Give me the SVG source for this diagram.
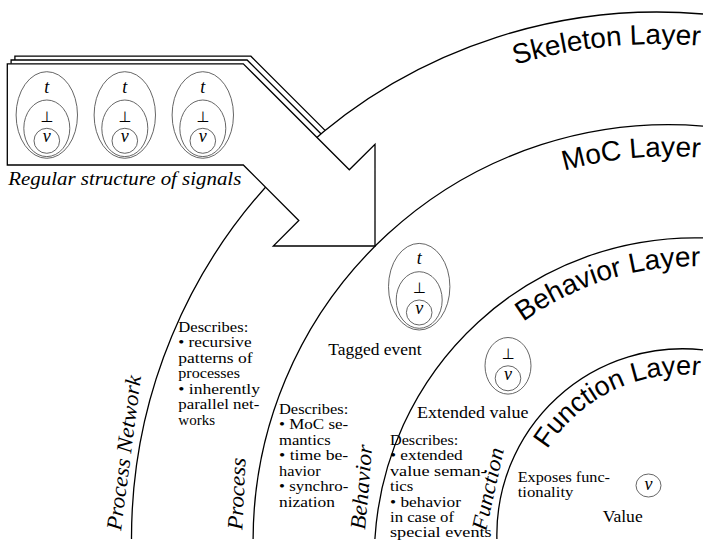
<svg xmlns="http://www.w3.org/2000/svg" width="716" height="549" viewBox="0 0 716 549">
<style>
.arc{fill:none;stroke:#000;stroke-width:1.3}
.box{fill:#fff;stroke:#000;stroke-width:1.3;stroke-linejoin:miter}
.back{fill:none;stroke:#000;stroke-width:1.3}
.ell{fill:none;stroke:#555;stroke-width:0.9}
text{fill:#000}
.m{font-family:'Liberation Serif',serif;font-style:italic;font-size:18px;text-anchor:middle}
.bot{font-family:'DejaVu Sans',sans-serif;font-size:15px;text-anchor:middle}
.d{font-family:'Liberation Serif',serif;font-size:15px}
.lab{font-family:'Liberation Serif',serif;font-size:16.5px}
.it{font-family:'Liberation Serif',serif;font-style:italic;font-size:22px}
.lay{font-family:'Liberation Sans',sans-serif;font-size:28px;text-anchor:end}
</style>
<defs>
<path id="p1" d="M 430 99.5 A 494 494 0 0 1 700 45.8"/>
<path id="p2" d="M 450 224.7 A 384 384 0 0 1 700 157.6"/>
<path id="p3" d="M 480 360.5 A 292 292 0 0 1 700 266.3"/>
<path id="p4" d="M 525.1 506.9 A 160 160 0 0 1 700 375.6"/>
</defs>
<rect width="716" height="549" fill="#fff"/>

<g id="stack-back">
<path class="back" d="M 14.9 60 V 56.2 H 250.9 L 325.1 130.4"/>
<path class="back" d="M 11.1 63.8 V 60 H 247.1 L 320.9 133.8"/>
</g>

<g id="layers">
<path class="arc" d="M 131.5 539 A 526 526 0 0 1 703 14"/>
<path class="arc" d="M 253.1 539 A 415.6 415.6 0 0 1 703 126.1"/>
<path class="arc" d="M 374.9 539 A 320.5 320.5 0 0 1 703 237.9"/>
<path class="arc" d="M 496.9 539 A 185.9 185.9 0 0 1 703 349.9"/>
</g>

<g id="arrow">
<polygon class="box" points="7.3,63.8 243.3,63.8 349.3,169.8 375,144.2 375,246 273.3,246 298.8,220.5 243.3,165 7.3,165"/>
</g>

<g id="signal-1" transform="translate(46.8,115)">
<ellipse class="ell" cx="0" cy="0" rx="30.7" ry="43.3"/>
<ellipse class="ell" cx="0" cy="13.3" rx="23" ry="28.3"/>
<ellipse class="ell" cx="0" cy="25.8" rx="12.8" ry="12.5"/>
<text class="m" x="0" y="-22.5">t</text>
<text class="bot" x="0" y="6.7">⊥</text>
<text class="m" x="0" y="27">v</text>
</g>
<g id="signal-2" transform="translate(124.8,115)">
<ellipse class="ell" cx="0" cy="0" rx="30.7" ry="43.3"/>
<ellipse class="ell" cx="0" cy="13.3" rx="23" ry="28.3"/>
<ellipse class="ell" cx="0" cy="25.8" rx="12.8" ry="12.5"/>
<text class="m" x="0" y="-22.5">t</text>
<text class="bot" x="0" y="6.7">⊥</text>
<text class="m" x="0" y="27">v</text>
</g>
<g id="signal-3" transform="translate(202.8,115)">
<ellipse class="ell" cx="0" cy="0" rx="30.7" ry="43.3"/>
<ellipse class="ell" cx="0" cy="13.3" rx="23" ry="28.3"/>
<ellipse class="ell" cx="0" cy="25.8" rx="12.8" ry="12.5"/>
<text class="m" x="0" y="-22.5">t</text>
<text class="bot" x="0" y="6.7">⊥</text>
<text class="m" x="0" y="27">v</text>
</g>
<text class="m" style="text-anchor:start" x="8.3" y="184.5" textLength="233" lengthAdjust="spacingAndGlyphs">Regular structure of signals</text>

<g id="tagged-event" transform="translate(419.2,286.7)">
<ellipse class="ell" cx="0" cy="0" rx="30.7" ry="43.3"/>
<ellipse class="ell" cx="0" cy="13.3" rx="23" ry="28.3"/>
<ellipse class="ell" cx="0" cy="25.8" rx="12.8" ry="12.5"/>
<text class="m" x="0" y="-22.5">t</text>
<text class="bot" x="0" y="6.7">⊥</text>
<text class="m" x="0" y="27">v</text>
</g>
<text class="lab" x="328.3" y="355" textLength="93.3" lengthAdjust="spacingAndGlyphs">Tagged event</text>

<g id="extended-value" transform="translate(508,352.5)">
<ellipse class="ell" cx="0" cy="13.3" rx="23" ry="28.3"/>
<ellipse class="ell" cx="0" cy="25.8" rx="12.8" ry="12.5"/>
<text class="bot" x="0" y="6.7">⊥</text>
<text class="m" x="0" y="27">v</text>
</g>
<text class="lab" x="417" y="418.3" textLength="111.5" lengthAdjust="spacingAndGlyphs">Extended value</text>

<g id="value">
<ellipse class="ell" cx="648.5" cy="485.5" rx="12.5" ry="11.5"/>
<text class="m" x="648.5" y="490">v</text>
</g>
<text class="lab" x="602.7" y="521.7" textLength="40" lengthAdjust="spacingAndGlyphs">Value</text>

<g id="layer-labels">
<text class="lay"><textPath href="#p1" startOffset="100%">Skeleton Layer</textPath></text>
<text class="lay"><textPath href="#p2" startOffset="100%">MoC Layer</textPath></text>
<text class="lay"><textPath href="#p3" startOffset="100%">Behavior Layer</textPath></text>
<text class="lay" style="font-size:27px"><textPath href="#p4" startOffset="100%">Function Layer</textPath></text>
</g>

<g id="side-labels">
<text class="it" transform="translate(121,531) rotate(-82.6)" textLength="156" lengthAdjust="spacingAndGlyphs">Process Network</text>
<text class="it" transform="translate(242.3,530) rotate(-87.3)" textLength="72" lengthAdjust="spacingAndGlyphs">Process</text>
<text class="it" transform="translate(365,530) rotate(-85)" textLength="85" lengthAdjust="spacingAndGlyphs">Behavior</text>
<text class="it" transform="translate(486,531.5) rotate(-77.6)" textLength="84" lengthAdjust="spacingAndGlyphs">Function</text>
</g>

<g id="desc-network">
<text class="d" x="178.3" y="331.5" textLength="70" lengthAdjust="spacingAndGlyphs">Describes:</text>
<text class="d" x="178.3" y="347" textLength="73.3" lengthAdjust="spacingAndGlyphs">• recursive</text>
<text class="d" x="178.3" y="362.5" textLength="74.3" lengthAdjust="spacingAndGlyphs">patterns of</text>
<text class="d" x="178.3" y="378" textLength="61.7" lengthAdjust="spacingAndGlyphs">processes</text>
<text class="d" x="178.3" y="393.5" textLength="81.7" lengthAdjust="spacingAndGlyphs">• inherently</text>
<text class="d" x="178.3" y="409" textLength="81" lengthAdjust="spacingAndGlyphs">parallel net-</text>
<text class="d" x="178.3" y="424.5" textLength="36.7" lengthAdjust="spacingAndGlyphs">works</text>
</g>
<g id="desc-process">
<text class="d" x="279" y="413.5" textLength="69.3" lengthAdjust="spacingAndGlyphs">Describes:</text>
<text class="d" x="279" y="429" textLength="69.3" lengthAdjust="spacingAndGlyphs">• MoC se-</text>
<text class="d" x="279" y="444.5" textLength="51.7" lengthAdjust="spacingAndGlyphs">mantics</text>
<text class="d" x="279" y="460" textLength="69.3" lengthAdjust="spacingAndGlyphs">• time be-</text>
<text class="d" x="279" y="475.5" textLength="41.7" lengthAdjust="spacingAndGlyphs">havior</text>
<text class="d" x="279" y="491" textLength="69.3" lengthAdjust="spacingAndGlyphs">• synchro-</text>
<text class="d" x="279" y="506.5" textLength="56" lengthAdjust="spacingAndGlyphs">nization</text>
</g>
<g id="desc-behavior">
<text class="d" x="390" y="445" textLength="68.3" lengthAdjust="spacingAndGlyphs">Describes:</text>
<text class="d" x="390" y="460.4" textLength="72.7" lengthAdjust="spacingAndGlyphs">• extended</text>
<text class="d" x="390" y="475.8" textLength="96.7" lengthAdjust="spacingAndGlyphs">value seman-</text>
<text class="d" x="390" y="491.2" textLength="23.3" lengthAdjust="spacingAndGlyphs">tics</text>
<text class="d" x="390" y="506.6" textLength="71" lengthAdjust="spacingAndGlyphs">• behavior</text>
<text class="d" x="390" y="522" textLength="64" lengthAdjust="spacingAndGlyphs">in case of</text>
<text class="d" x="390" y="537.4" textLength="101.7" lengthAdjust="spacingAndGlyphs">special events</text>
</g>
<g id="desc-function">
<text class="d" x="517.7" y="482" textLength="92.3" lengthAdjust="spacingAndGlyphs">Exposes func-</text>
<text class="d" x="517.7" y="497" textLength="55.7" lengthAdjust="spacingAndGlyphs">tionality</text>
</g>
</svg>
